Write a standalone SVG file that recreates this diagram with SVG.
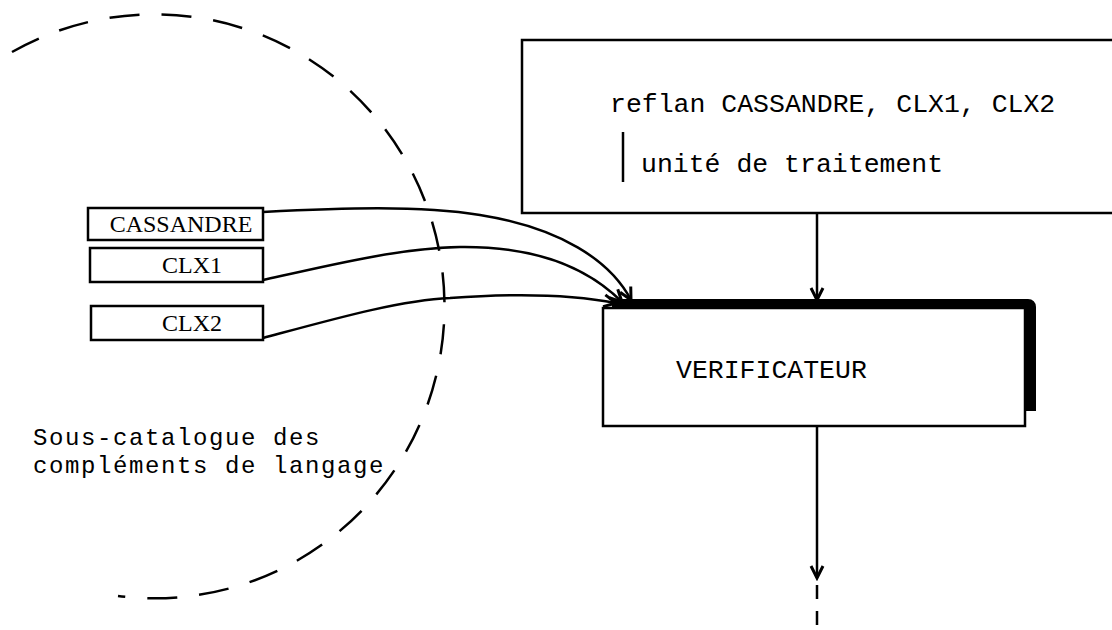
<svg xmlns="http://www.w3.org/2000/svg" width="1112" height="630" viewBox="0 0 1112 630">
<style>
.bx{fill:#fff;stroke:#000;stroke-width:2.5}
.ln{fill:none;stroke:#000;stroke-width:2.5}
.serif{font-family:"Liberation Serif","DejaVu Serif",serif;font-size:24px;fill:#000}
.mono{font-family:"Liberation Mono","DejaVu Sans Mono",monospace;font-size:26.5px;fill:#000}
.lbl{font-family:"Liberation Mono","DejaVu Sans Mono",monospace;font-size:24px;letter-spacing:1.6px;fill:#000}
</style>
<defs>
<marker id="ah" markerWidth="16" markerHeight="16" refX="13" refY="8" orient="auto" markerUnits="userSpaceOnUse">
<path d="M1,2 L13,8 L1,14" fill="none" stroke="#000" stroke-width="3"/>
</marker>
</defs>
<rect width="1112" height="630" fill="#fff"/>
<g id="catalogue">
<path d="M12,52 A290,292 0 1 1 118,596" fill="none" stroke="#000" stroke-width="2.5" stroke-dasharray="30,22"/>
<text class="lbl" x="33" y="445">Sous-catalogue des</text>
<text class="lbl" x="33" y="473">compléments de langage</text>
</g>
<g id="cassandre">
<rect class="bx" x="88" y="208" width="175" height="32"/>
<text class="serif" x="181" y="232" text-anchor="middle">CASSANDRE</text>
</g>
<g id="clx1">
<rect class="bx" x="90" y="248" width="173" height="34"/>
<text class="serif" x="192" y="273" text-anchor="middle">CLX1</text>
</g>
<g id="clx2">
<rect class="bx" x="91" y="306" width="172" height="34"/>
<text class="serif" x="192" y="331" text-anchor="middle">CLX2</text>
</g>
<g id="reflan">
<rect class="bx" x="522" y="40" width="600" height="173"/>
<text class="mono" x="610" y="112">reflan CASSANDRE, CLX1, CLX2</text>
<line class="ln" x1="623" y1="132" x2="623" y2="182"/>
<text class="mono" x="641" y="172">unité de traitement</text>
</g>
<g id="verificateur">
<rect class="bx" x="603" y="308" width="422" height="118"/>
<path d="M612,304 L1028,304 Q1031,304 1031,307 L1031,411" fill="none" stroke="#000" stroke-width="10"/>
<text class="mono" x="676" y="378">VERIFICATEUR</text>
</g>
<g id="connectors">
<path class="ln" d="M263,212 C340,208 420,205 480,215 C560,228 610,260 631,300" marker-end="url(#ah)"/>
<path class="ln" d="M263,280 C330,265 400,248 460,247 C540,246 590,270 622,302" marker-end="url(#ah)"/>
<path class="ln" d="M263,338 C330,320 400,300 450,298 C530,292 580,296 616,303" marker-end="url(#ah)"/>
<line class="ln" x1="817" y1="213" x2="817" y2="300" marker-end="url(#ah)"/>
<line class="ln" x1="817" y1="426" x2="817" y2="578" marker-end="url(#ah)"/>
<line class="ln" x1="817" y1="585" x2="817" y2="630" stroke-dasharray="14,12"/>
</g>
</svg>
